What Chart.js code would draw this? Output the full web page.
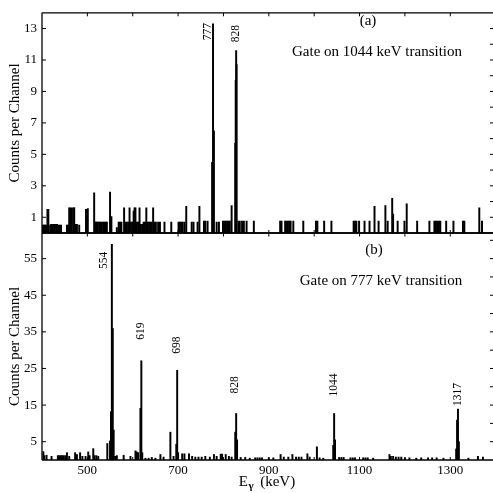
<!DOCTYPE html>
<html>
<head>
<meta charset="utf-8">
<script src="https://cdn.jsdelivr.net/npm/chart.js@4.4.1/dist/chart.umd.min.js"></script>
<style>
  html, body { margin: 0; padding: 0; background: #fff; }
  #wrap { position: relative; width: 493px; height: 493px; }
  #wrap canvas { position: absolute; left: 0; top: 0; }
</style>
</head>
<body>
<div id="wrap">
  <canvas id="chartA" width="493" height="493"></canvas>
  <canvas id="chartB" width="493" height="493"></canvas>
</div>
<script>
// panel (a): gate on 1044 keV
const topE = [401, 403, 405, 407, 409, 412, 414, 418, 420, 422, 424, 426, 428, 431, 433, 436, 439, 442,
  455, 457, 460, 462, 466, 470, 471, 473, 475, 477, 482, 497, 501, 515,
  517, 519, 521, 523, 526, 528, 532, 535, 538, 541, 543, 550, 553,
  565, 569, 572, 575, 581, 584, 587, 590, 593, 596, 599, 602, 604, 606, 609, 612, 615,
  618, 621, 624, 627, 630, 633, 636, 639, 642, 645, 648, 651, 656, 660, 670, 685,
  701, 704, 707, 710, 714, 718, 730, 734, 743, 747, 757, 760, 765,
  775, 777, 779, 785, 790, 799, 802, 805, 808, 811, 814, 818, 826, 827, 828, 829,
  833, 836, 841, 845, 851, 867, 925, 928, 936, 939, 942, 945, 948, 954, 976,
  1004, 1007, 1022, 1038, 1087, 1090, 1093, 1099, 1111, 1122,
  1133, 1142, 1157, 1162, 1172, 1174, 1184, 1199, 1204,
  1227, 1254, 1265, 1268, 1271, 1275, 1278, 1291, 1307, 1328, 1331, 1364, 1370];
const topCounts = [0.5, 0.5, 0.5, 0.5, 0.5, 1.5, 1.5, 0.5, 0.55, 0.55, 0.55, 0.55, 0.55, 0.55, 0.55, 0.5, 0.5, 0.5,
  0.5, 0.5, 1.6, 1.6, 1.6, 1.6, 1.6, 0.55, 0.55, 0.55, 0.5, 1.5, 1.55, 2.55,
  0.7, 0.7, 0.7, 0.7, 0.7, 0.7, 0.7, 0.7, 0.7, 0.7, 0.7, 2.6, 1.05,
  0.35, 0.7, 0.7, 0.7, 1.6, 0.7, 0.7, 0.7, 1.6, 0.7, 0.7, 1.4, 1.6, 1.6, 0.7, 0.7, 1.6,
  0.55, 0.55, 0.7, 0.7, 1.6, 0.7, 0.7, 0.7, 0.7, 1.6, 0.7, 0.7, 0.7, 0.7, 0.7, 0.7,
  0.7, 0.7, 0.7, 0.7, 0.7, 1.7, 0.7, 0.7, 0.7, 1.7, 0.75, 0.75, 0.75,
  4.5, 13.3, 6.5, 0.7, 0.7, 0.75, 0.75, 0.75, 0.75, 0.75, 0.75, 1.75, 5.7, 9.7, 11.6, 10.7,
  0.75, 0.75, 0.75, 0.75, 0.75, 0.75, 0.75, 0.75, 0.75, 0.75, 0.75, 0.75, 0.75, 0.75, 0.75,
  0.75, 0.75, 0.75, 0.75, 0.75, 0.75, 0.75, 0.75, 0.75, 0.75,
  1.7, 0.75, 1.75, 0.75, 2.2, 1.2, 0.75, 0.75, 1.85,
  0.75, 0.75, 0.75, 0.75, 0.75, 0.75, 0.75, 0.75, 0.75, 0.75, 0.75, 1.6, 0.75];

// panel (b): gate on 777 keV
const botE = [403, 405, 410, 421, 435, 438, 441, 444, 447, 451, 455, 460, 473, 477, 484, 489, 496, 502, 505, 513, 516, 520, 524,
  544, 550, 552, 554, 556, 558, 561, 565, 580, 595, 606, 609, 612, 617, 619, 621,
  628, 635, 642, 650, 661, 668, 683, 690, 696, 698, 700, 709, 714, 724, 731, 738, 745, 752, 760, 770,
  779, 785, 794, 797, 805, 812, 818, 826, 828, 830,
  838, 848, 858, 870, 875, 880, 885, 900, 910, 926, 933, 943, 952, 960, 966, 972, 985, 990,
  1006, 1012, 1020, 1042, 1044, 1046, 1055, 1060, 1065, 1080, 1085, 1090, 1108, 1113, 1118, 1130,
  1166, 1169, 1174, 1180, 1186, 1192, 1200, 1210, 1225, 1236, 1251, 1260, 1270, 1285,
  1313, 1315, 1317, 1319, 1340, 1361, 1372];
const botCounts = [2.3, 1.2, 1.3, 1.0, 1.2, 1.2, 1.2, 1.2, 1.2, 1.2, 2.0, 1.0, 2.0, 1.5, 2.0, 1.0, 1.0, 2.2, 1.2, 3.1, 1.2, 1.2, 1.0,
  4.5, 5.2, 13.2, 58.9, 35.9, 8.2, 1.0, 1.2, 1.3, 1.0, 2.5, 2.2, 2.0, 14.1, 27.1, 2.0,
  0.5, 0.5, 0.7, 0.5, 1.5, 0.8, 7.6, 1.0, 4.3, 24.5, 2.0, 1.7, 1.7, 1.7, 1.0, 0.8, 0.8, 0.8, 1.0, 0.8,
  1.5, 1.0, 1.6, 1.6, 1.5, 1.0, 0.8, 7.6, 12.7, 5.5,
  0.7, 0.7, 0.5, 0.6, 0.6, 0.6, 0.6, 0.6, 0.6, 1.5, 0.8, 0.8, 1.5, 0.8, 0.8, 0.8, 1.7, 0.8,
  3.6, 0.6, 0.5, 4.0, 12.7, 5.5, 0.7, 0.7, 0.7, 0.6, 0.6, 0.6, 0.6, 0.6, 0.6, 0.5,
  1.5, 1.0, 1.0, 0.8, 0.8, 0.8, 0.6, 0.6, 0.5, 0.6, 0.6, 0.6, 0.6, 0.5,
  3.0, 10.9, 13.9, 5.0, 0.5, 1.0, 0.8];

// peak labels
const topPeaks = ['777', '828'];
const botPeaks = ['554', '619', '698', '828', '1044', '1317'];

// ticks
const xLabels = [500, 700, 900, 1100, 1300];
const xMinor = [500, 600, 700, 800, 900, 1000, 1100, 1200, 1300];
const topYLabels = [1, 3, 5, 7, 9, 11, 13];
const topYMinor = [1, 2, 3, 4, 5, 6, 7, 8, 9, 10, 11, 12, 13];
const botYLabels = [5, 15, 25, 35, 45, 55];
const botYMinor = [5, 10, 15, 20, 25, 30, 35, 40, 45, 50, 55, 60];

const serif = "'Liberation Serif', 'Times New Roman', serif";

// label placement (value on the panel's y scale, pixel shift in x)
const topLabelPos = [{ y: 12.8, dx: -5 }, { y: 12.67, dx: 0 }];
const botLabelPos = [{ y: 54.5, dx: -7.5 }, { y: 35.2, dx: 0 }, { y: 31.4, dx: 0 },
  { y: 20.5, dx: -1 }, { y: 20.5, dx: 0 }, { y: 17.9, dx: 0 }];

const decor = {
  id: 'decor',
  afterDraw(chart, args, o) {
    const { ctx, chartArea: a, scales: { x, y } } = chart;
    ctx.save();
    ctx.strokeStyle = '#000';
    ctx.lineWidth = 1.3;
    ctx.beginPath();
    ctx.moveTo(a.left, a.top); ctx.lineTo(a.right + 1, a.top);
    ctx.moveTo(a.left, a.top); ctx.lineTo(a.left, a.bottom);
    ctx.moveTo(a.left, a.bottom); ctx.lineTo(a.right + 1, a.bottom);
    ctx.stroke();

    ctx.lineWidth = 1;
    ctx.beginPath();
    o.yLabels.forEach(v => {
      const py = y.getPixelForValue(v);
      ctx.moveTo(a.left, py); ctx.lineTo(a.left + 4, py);
    });
    o.yMinor.forEach(v => {
      const py = y.getPixelForValue(v);
      ctx.moveTo(a.right + 1, py); ctx.lineTo(a.right - 2, py);
    });
    xMinor.forEach(v => {
      const px = x.getPixelForValue(v);
      ctx.moveTo(px, a.top); ctx.lineTo(px, a.top + 3.5);
      ctx.moveTo(px, a.bottom); ctx.lineTo(px, a.bottom - 3);
    });
    ctx.stroke();

    ctx.fillStyle = '#000';
    ctx.textAlign = 'center';
    ctx.textBaseline = 'middle';
    ctx.font = '15px ' + serif;
    ctx.fillText(o.panel, o.panelX, o.panelY);
    ctx.fillText(o.gate, o.gateX, o.gateY);

    ctx.font = '11.5px ' + serif;
    o.peaks.forEach((t, i) => {
      const px = x.getPixelForValue(+t) + o.labelPos[i].dx;
      const py = y.getPixelForValue(o.labelPos[i].y);
      ctx.save();
      ctx.translate(px, py);
      ctx.rotate(-Math.PI / 2);
      ctx.fillText(t, 0, 0);
      ctx.restore();
    });

    if (o.xTitle) {
      const cx = (a.left + a.right) / 2;
      const base = 486;
      ctx.textAlign = 'left';
      ctx.textBaseline = 'alphabetic';
      ctx.font = '15px ' + serif;
      const wE = ctx.measureText('E').width;
      const wK = ctx.measureText('(keV)').width;
      ctx.font = 'bold 11px ' + serif;
      const wG = ctx.measureText('\u03b3').width;
      const gap = 7;
      let sx = cx - (wE + wG + gap + wK) / 2;
      ctx.font = '15px ' + serif;
      ctx.fillText('E', sx, base);
      ctx.font = 'bold 11px ' + serif;
      ctx.fillText('\u03b3', sx + wE + 0.5, base + 3);
      ctx.font = '15px ' + serif;
      ctx.fillText('(keV)', sx + wE + wG + gap, base);
    }
    ctx.restore();
  }
};

function yAxis(labels, max) {
  return {
    min: 0, max: max,
    afterFit: s => { s.width = 42; },
    afterBuildTicks: s => { s.ticks = labels.map(v => ({ value: v })); },
    grid: { display: false, drawTicks: false },
    border: { display: false },
    ticks: { color: '#000', font: { family: serif, size: 13 }, padding: 5, autoSkip: false,
      callback: v => String(v) },
    title: { display: true, text: 'Counts per Channel', color: '#000',
      font: { family: serif, size: 15 }, padding: { top: 6, bottom: 0 } }
  };
}

function makeChart(id, E, C, yMax, yLabels, yMinor, padding, showX, extra) {
  return new Chart(document.getElementById(id), {
    type: 'bar',
    data: {
      datasets: [{
        data: E.map((e, i) => ({ x: e, y: C[i] })),
        backgroundColor: '#000',
        borderWidth: 0,
        barThickness: 1.3,
        grouped: false
      }]
    },
    options: {
      responsive: false,
      animation: false,
      layout: { padding: padding },
      plugins: {
        legend: { display: false },
        tooltip: { enabled: false },
        decor: Object.assign({ yLabels: yLabels, yMinor: yMinor }, extra)
      },
      scales: {
        x: {
          type: 'linear', min: 400, max: 1392, offset: false,
          display: showX,
          afterFit: s => { s.height = showX ? 33 : 0; },
          afterBuildTicks: s => { s.ticks = xLabels.map(v => ({ value: v })); },
          grid: { display: false, drawTicks: false, offset: false },
          border: { display: false },
          ticks: { color: '#000', font: { family: serif, size: 13 }, padding: 3,
            autoSkip: false, maxRotation: 0, callback: v => String(v) }
        },
        y: yAxis(yLabels, yMax)
      }
    },
    plugins: [decor]
  });
}

makeChart('chartA', topE, topCounts, 14, topYLabels, topYMinor,
  { top: 7, bottom: 260, left: 0, right: 1 }, false,
  { panel: '(a)', panelX: 368, panelY: 21, gate: 'Gate on 1044 keV transition', gateX: 377, gateY: 52.5,
    peaks: topPeaks, labelPos: topLabelPos, xTitle: false });

makeChart('chartB', botE, botCounts, 62, botYLabels, botYMinor,
  { top: 233, bottom: 0, left: 0, right: 1 }, true,
  { panel: '(b)', panelX: 374, panelY: 250, gate: 'Gate on 777 keV transition', gateX: 381, gateY: 281.5,
    peaks: botPeaks, labelPos: botLabelPos, xTitle: true });
</script>
</body>
</html>
